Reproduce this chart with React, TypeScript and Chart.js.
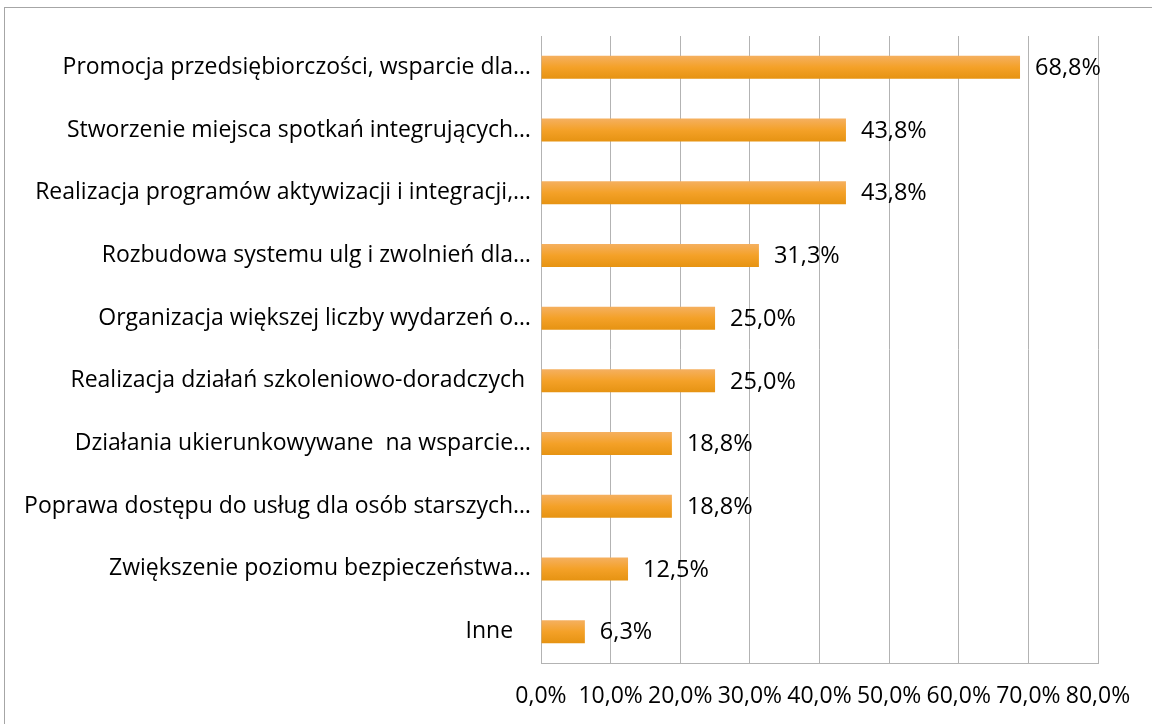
import React, { useEffect, useRef } from "react";
import { Chart, registerables } from "chart.js";

Chart.register(...registerables);

const categories = [
  "Promocja przedsiębiorczości, wsparcie dla…",
  "Stworzenie miejsca spotkań integrujących…",
  "Realizacja programów aktywizacji i integracji,…",
  "Rozbudowa systemu ulg i zwolnień dla…",
  "Organizacja większej liczby wydarzeń o…",
  "Realizacja działań szkoleniowo-doradczych ",
  "Działania ukierunkowywane  na wsparcie…",
  "Poprawa dostępu do usług dla osób starszych…",
  "Zwiększenie poziomu bezpieczeństwa…",
  "Inne   ",
];
const values = [68.8, 43.8, 43.8, 31.3, 25.0, 25.0, 18.8, 18.8, 12.5, 6.3];
const xTicks = [0, 10, 20, 30, 40, 50, 60, 70, 80];

const FONT = "'Open Sans'";
const fmt = (v: number) => v.toFixed(1).replace(".", ",") + "%";

export default function App() {
  const ref = useRef<HTMLCanvasElement>(null);
  useEffect(() => {
    const canvas = ref.current!;
    const labelPlugin = {
      id: "valueLabels",
      afterDatasetsDraw(chart: any) {
        const ctx = chart.ctx;
        const meta = chart.getDatasetMeta(0);
        ctx.save();
        ctx.font = `23.5px ${FONT}`;
        ctx.fillStyle = "#000";
        ctx.textAlign = "left";
        ctx.textBaseline = "middle";
        meta.data.forEach((bar: any, i: number) => {
          ctx.fillText(fmt(values[i]), bar.x + 15, bar.y + 1);
        });
        ctx.restore();
      },
    };
    const chart = new Chart(canvas, {
      type: "bar",
      data: {
        labels: categories,
        datasets: [
          {
            data: values,
            backgroundColor: (c: any) => {
              const chartObj = c.chart;
              const ys = chartObj.scales?.y;
              if (!ys || c.dataIndex === undefined) return "#F09B1C";
              const yc = ys.getPixelForValue(c.dataIndex);
              if (!isFinite(yc)) return "#F09B1C";
              const g = chartObj.ctx.createLinearGradient(0, yc - 11.5, 0, yc + 11.5);
              g.addColorStop(0, "#F5B060");
              g.addColorStop(0.5, "#F4A128");
              g.addColorStop(1, "#E69312");
              return g;
            },
            borderWidth: 0,
            barPercentage: 0.367,
            categoryPercentage: 1,
          },
        ],
      },
      options: {
        indexAxis: "y",
        animation: false,
        responsive: false,
        maintainAspectRatio: false,
        layout: { padding: { top: 36, right: 54, left: 0, bottom: 0 } },
        plugins: { legend: { display: false }, tooltip: { enabled: false } },
        scales: {
          x: {
            min: 0,
            max: 80,
            afterBuildTicks: (axis: any) => {
              axis.ticks = xTicks.map((v) => ({ value: v }));
            },
            afterFit: (axis: any) => {
              axis.height = 61;
            },
            grid: { color: "#B3B3B3", lineWidth: 1, drawTicks: false },
            border: { color: "#B3B3B3", width: 1 },
            ticks: {
              callback: (v: any) => fmt(Number(v)),
              font: { family: FONT, size: 23 },
              color: "#000",
              padding: 20,
              maxRotation: 0,
              autoSkip: false,
            },
          },
          y: {
            afterFit: (axis: any) => {
              axis.width = 541;
            },
            grid: { display: false, drawTicks: false },
            border: { color: "#B3B3B3", width: 1 },
            ticks: {
              font: { family: FONT, size: 23 },
              color: "#000",
              padding: 10,
              autoSkip: false,
            },
          },
        },
      },
      plugins: [labelPlugin],
    });
    return () => chart.destroy();
  }, []);
  return (
    <div style={{ position: "fixed", left: 0, top: 0, width: 1152, height: 724, background: "#fff", overflow: "hidden" }}>
      <div
        style={{
          position: "absolute",
          left: 4,
          top: 7,
          width: 1160,
          height: 730,
          borderLeft: "1px solid #A6A6A6",
          borderTop: "1px solid #A6A6A6",
        }}
      />
      <canvas ref={ref} width={1152} height={724} style={{ position: "absolute", left: 0, top: 0, width: 1152, height: 724 }} />
    </div>
  );
}
